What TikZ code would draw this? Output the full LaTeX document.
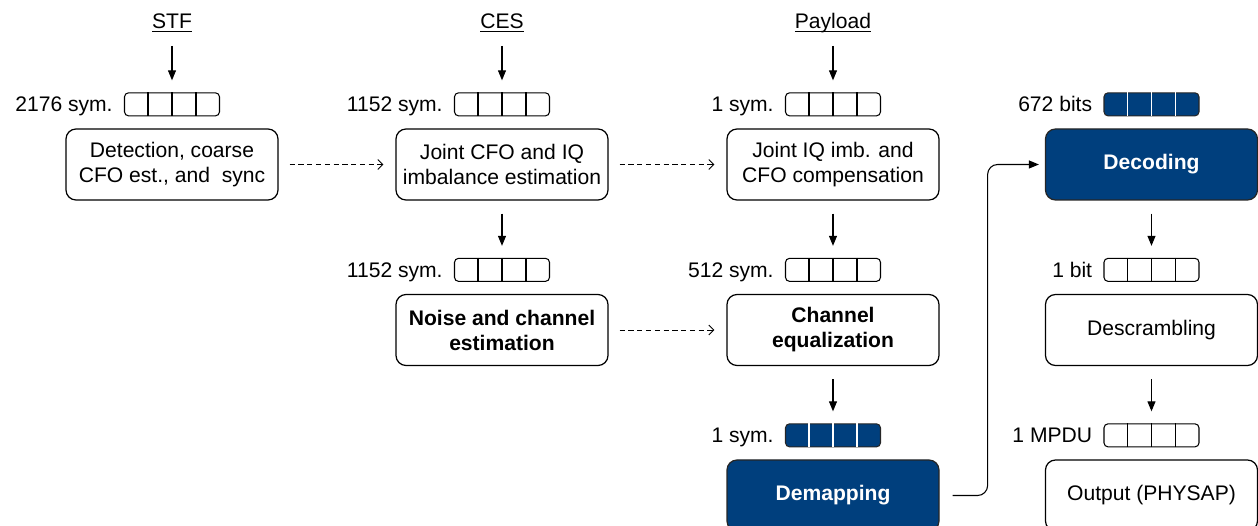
\documentclass[tikz,border=0pt]{standalone}
\usepackage{fontspec}
\setmainfont{Liberation Sans}
\usetikzlibrary{positioning,arrows.meta,calc}
\definecolor{navy}{RGB}{0,63,125}
\newcommand{\bodyfont}{\fontsize{12pt}{14.2pt}\selectfont}

\tikzset{
  block/.style={draw, line width=0.7pt, rounded corners=0.2cm, minimum width=4.24cm,
    minimum height=1.42cm, align=center, inner sep=2pt},
  boldblock/.style={block, font=\bodyfont\bfseries},
  darkblock/.style={boldblock, fill=navy, draw=black!85, text=white},
  buf/.style={draw, line width=0.6pt, rounded corners=0.08cm, minimum width=1.9cm,
    minimum height=0.46cm, inner sep=0pt},
  darkbuf/.style={buf, fill=navy, draw=black!85},
  tag/.style={inner sep=0pt, text height=8.6pt, text depth=0pt, left=0.22cm of #1},
  input/.style={inner sep=0pt, anchor=base},
  flow/.style={line width=0.6pt, -{Triangle[length=0.2cm,width=0.16cm]}},
  link/.style={line width=0.5pt, dash pattern=on 3pt off 2pt,
    -{Straight Barb[length=0.1cm,width=0.2cm]}, shorten <=0.22cm, shorten >=0.24cm}
}
\newcommand{\cells}[2]{%
  \foreach \k in {1,2,3}
    \draw[line width=0.6pt,#2] ($(#1.north west)!\k/4!(#1.north east)$) -- ($(#1.south west)!\k/4!(#1.south east)$);}

\begin{document}
\begin{tikzpicture}[font=\bodyfont]
  \useasboundingbox (0,0) rectangle (25.16,-10.52);

  % Blocks
  \node[block] (detect) at (3.44,-3.29) {Detection, coarse\\CFO est., and \ sync};
  \node[block] (joint) at (10.04,-3.29) {Joint CFO and IQ\\imbalance estimation};
  \node[block] (comp) at (16.66,-3.29) {Joint IQ imb. and\\CFO compensation};
  \node[darkblock] (decode) at (23.03,-3.29) {Decoding};
  \node[boldblock] (noise) at (10.04,-6.6) {Noise and channel\\estimation};
  \node[boldblock] (equal) at (16.66,-6.6) {Channel\\equalization};
  \node[block] (descr) at (23.03,-6.6) {Descrambling};
  \node[darkblock] (demap) at (16.66,-9.91) {Demapping};
  \node[block] (output) at (23.03,-9.91) {Output (PHYSAP)};

  % Buffers
  \node[buf, above=0.24cm of detect] (bdetect) {};
  \node[buf, above=0.24cm of joint] (bjoint) {};
  \node[buf, above=0.24cm of comp] (bcomp) {};
  \node[darkbuf, above=0.24cm of decode] (bdecode) {};
  \node[buf, above=0.24cm of noise] (bnoise) {};
  \node[buf, above=0.24cm of equal] (bequal) {};
  \node[buf, above=0.24cm of descr] (bdescr) {};
  \node[darkbuf, above=0.24cm of demap] (bdemap) {};
  \node[buf, above=0.24cm of output] (boutput) {};
  \foreach \b in {bdetect,bjoint,bcomp,bnoise,bequal,bdescr,boutput}
    \cells{\b}{black};
  \cells{bdecode}{white}
  \cells{bdemap}{white}

  \node[tag=bdetect] (tdetect) {2176 sym.};
  \node[tag=bjoint] (tjoint) {1152 sym.};
  \node[tag=bcomp] (tcomp) {1 sym.};
  \node[tag=bdecode] (tdecode) {672 bits};
  \node[tag=bnoise] (tnoise) {1152 sym.};
  \node[tag=bequal] (tequal) {512 sym.};
  \node[tag=bdescr] (tdescr) {1 bit};
  \node[tag=bdemap] (tdemap) {1 sym.};
  \node[tag=boutput] (toutput) {1 MPDU};

  % Inputs
  \node[input] (stf) at (3.44,-0.58) {\underline{\smash{STF}}};
  \node[input] (ces) at (10.04,-0.58) {\underline{\smash{CES}}};
  \node[input] (payload) at (16.66,-0.58) {\underline{\smash{Payload}}};
  \draw[flow, shorten <=0.26cm, shorten >=0.24cm] (stf) -- (bdetect);
  \draw[flow, shorten <=0.26cm, shorten >=0.24cm] (ces) -- (bjoint);
  \draw[flow, shorten <=0.26cm, shorten >=0.24cm] (payload) -- (bcomp);

  % Flow between rows
  \draw[flow, shorten <=0.26cm, shorten >=0.24cm] (joint) -- (bnoise);
  \draw[flow, shorten <=0.26cm, shorten >=0.24cm] (comp) -- (bequal);
  \draw[flow, shorten <=0.26cm, shorten >=0.24cm] (equal) -- (bdemap);
  \draw[flow, shorten <=0.26cm, shorten >=0.24cm] (decode) -- (bdescr);
  \draw[flow, shorten <=0.26cm, shorten >=0.24cm] (descr) -- (boutput);
  \draw[flow, rounded corners=0.2cm, shorten <=0.26cm, shorten >=0.12cm]
    (demap.east) -- ++(0.96,0) |- (decode.west);

  % Estimates passed on
  \draw[link] (detect) -- (joint);
  \draw[link] (joint) -- (comp);
  \draw[link] (noise) -- (equal);
\end{tikzpicture}
\end{document}
